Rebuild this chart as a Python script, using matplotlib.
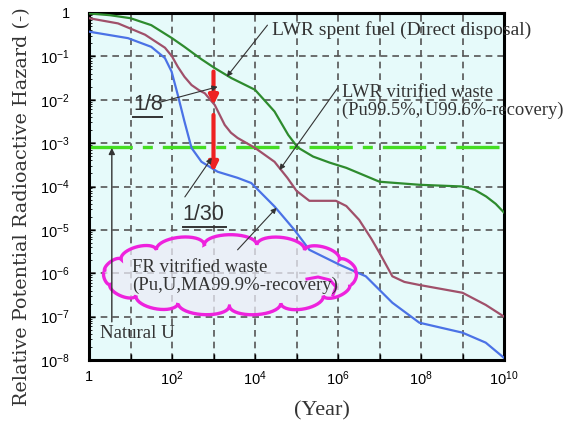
import numpy as np
import matplotlib
matplotlib.use("Agg")
import matplotlib.pyplot as plt
from matplotlib.patches import Polygon
from matplotlib.ticker import LogLocator, FuncFormatter, NullFormatter

# ---------------- data (log10 of year, log10 of relative hazard) ----------------
green_logx = [0, 0.5, 1.0, 1.5, 2.0, 2.3, 2.7, 3.03, 3.43, 4.0, 4.47, 4.8, 5.03, 5.4,
              5.8, 6.2, 7.0, 7.96, 9.0, 9.3, 9.57, 9.8, 10]
green_logy = [-0.01, -0.05, -0.12, -0.28, -0.58, -0.78, -1.06, -1.27, -1.5, -1.77, -2.27,
              -2.81, -3.1, -3.31, -3.45, -3.57, -3.89, -3.96, -4.0, -4.08, -4.23, -4.4, -4.6]

purple_logx = [0, 0.7, 1.35, 1.83, 2.0, 2.14, 2.3, 2.47, 2.65, 2.79, 3.03, 3.15, 3.27, 3.42,
               3.58, 4.0, 4.47, 4.78, 5.0, 5.31, 5.6, 5.95, 6.2, 6.51, 6.8, 7.0, 7.31, 7.6,
               7.96, 9.0, 9.56, 10]
purple_logy = [-0.12, -0.24, -0.5, -0.8, -1.0, -1.24, -1.47, -1.66, -1.78, -1.85, -2.12,
               -2.35, -2.58, -2.76, -2.88, -3.11, -3.43, -3.8, -4.1, -4.33, -4.33, -4.33,
               -4.45, -4.77, -5.2, -5.53, -6.07, -6.2, -6.27, -6.45, -6.73, -7.0]

blue_logx = [0, 0.94, 1.5, 1.83, 1.99, 2.14, 2.3, 2.47, 2.71, 3.1, 3.58, 3.91, 4.47,
             4.95, 5.31, 6.03, 6.67, 7.31, 7.96, 9.0, 9.56, 10]
blue_logy = [-0.43, -0.58, -0.78, -1.04, -1.35, -1.89, -2.5, -3.11, -3.43, -3.66, -3.8,
             -3.92, -4.46, -5.0, -5.46, -5.8, -6.07, -6.68, -7.14, -7.37, -7.6, -7.95]

natural_u_level = 8e-4
ratio_year = 1e3
ratio_1_8 = [10**-1.35, 10**-2.12]
ratio_1_30 = [10**-2.35, 10**-3.66]

label_spent = "LWR spent fuel (Direct disposal)"
label_lwr_vit = "LWR vitrified waste\n(Pu99.5%, U99.6%-recovery)"
label_fr_vit = "FR vitrified waste\n(Pu,U,MA99.9%-recovery)"
label_natu = "Natural U"
ylabel = "Relative Potential Radioactive Hazard (-)"
xlabel = "(Year)"

# ---------------- style ----------------
plt.rcParams["mathtext.fontset"] = "custom"
plt.rcParams["mathtext.rm"] = "Liberation Sans"
plt.rcParams["mathtext.default"] = "regular"
plt.rcParams["font.family"] = ["Liberation Sans", "DejaVu Sans"]
SERIF = ["Liberation Serif", "DejaVu Serif"]
TXT = "#333333"

fig = plt.figure(figsize=(5.72, 4.28), dpi=100)
ax = fig.add_axes([89 / 572, 68 / 428, 415 / 572, 347 / 428])
ax.set_xscale("log")
ax.set_yscale("log")
ax.set_xlim(1, 1e10)
ax.set_ylim(1e-8, 1)
ax.set_facecolor("#e6fafa")

ax.xaxis.set_major_locator(LogLocator(base=10, numticks=30))
ax.yaxis.set_major_locator(LogLocator(base=10, numticks=30))
ax.xaxis.set_minor_locator(LogLocator(base=10, subs=np.arange(2, 10), numticks=30))
ax.yaxis.set_minor_locator(LogLocator(base=10, subs=np.arange(2, 10), numticks=30))
ax.xaxis.set_minor_formatter(NullFormatter())
ax.yaxis.set_minor_formatter(NullFormatter())


def xfmt(v, pos):
    e = int(round(np.log10(v)))
    if e == 0:
        return "1"
    if e % 2:
        return ""
    return r"$10^{%d}$" % e


def yfmt(v, pos):
    e = int(round(np.log10(v)))
    if e == 0:
        return "1"
    return r"$10^{%d}$" % e


ax.xaxis.set_major_formatter(FuncFormatter(xfmt))
ax.yaxis.set_major_formatter(FuncFormatter(yfmt))
ax.tick_params(which="both", direction="in", labelsize=10.5, colors="black")
ax.tick_params(which="major", length=4, width=1)
ax.tick_params(which="minor", length=2, width=0.6)
ax.tick_params(axis="x", which="minor", length=0)
ax.tick_params(axis="x", pad=7)
ax.tick_params(axis="y", pad=14)
for s in ax.spines.values():
    s.set_linewidth(2.2)
    s.set_color("black")

ax.grid(which="major", linestyle=(0, (4, 3)), color="#555555", linewidth=1.2)
ax.set_axisbelow(True)

# ---------------- cloud ----------------
def to_ax(px, py):
    return ((px - 89) / 415.0, (360 - py) / 347.0)

cx, cy, a, b = 230, 275, 126, 31
N = 15
ang = np.linspace(0, 2 * np.pi, N + 1) + 0.1
nodes = np.column_stack([cx + a * np.cos(ang), cy - b * np.sin(ang)])
pts = []
for i in range(N):
    p1, p2 = nodes[i], nodes[i + 1]
    m = (p1 + p2) / 2
    h = (p2 - p1) / 2
    d = p2 - p1
    nrm = np.array([d[1], -d[0]]) / np.hypot(*d)
    if np.dot(nrm, m - np.array([cx, cy])) < 0:
        nrm = -nrm
    bulge = min(0.22 * np.hypot(*d), 10)
    for t in np.linspace(0, np.pi, 20):
        pts.append(m - np.cos(t) * h + np.sin(t) * bulge * nrm)
pts = np.array(pts)
axpts = np.array([to_ax(x, y) for x, y in pts])
cloud = Polygon(axpts, closed=True, transform=ax.transAxes, facecolor="#ececf6",
                alpha=0.75, edgecolor="none", zorder=1.5)
ax.add_patch(cloud)
cloud_edge = Polygon(axpts, closed=True, transform=ax.transAxes, facecolor="none",
                     edgecolor="#ee22dd", linewidth=2.4, zorder=4)
ax.add_patch(cloud_edge)
curl = np.array([to_ax(x, y) for x, y in [(307, 279), (318, 277), (330, 280), (336, 287), (333, 295)]])
ax.plot(curl[:, 0], curl[:, 1], color="#ee22dd", lw=2.2, transform=ax.transAxes, zorder=4)

# ---------------- curves ----------------
ax.plot(np.power(10.0, green_logx), np.power(10.0, green_logy), color="#2e8b2e", lw=1.6, zorder=3)
ax.plot(np.power(10.0, purple_logx), np.power(10.0, purple_logy), color="#a0506a", lw=1.6, zorder=3)
ax.plot(np.power(10.0, blue_logx), np.power(10.0, blue_logy), color="#4b72e6", lw=1.6, zorder=3)
ax.axhline(natural_u_level, color="#44dd22", lw=2.4, linestyle=(0, (13, 3, 3, 3)), zorder=2.5)

# ---------------- red ratio arrows ----------------
red = dict(arrowstyle="-|>", color="#ee2222", lw=3, mutation_scale=13, shrinkA=0, shrinkB=0)
ax.annotate("", xy=(ratio_year, ratio_1_8[1]), xytext=(ratio_year, ratio_1_8[0]), arrowprops=red, zorder=5)
ax.annotate("", xy=(ratio_year, ratio_1_30[1]), xytext=(ratio_year, ratio_1_30[0]), arrowprops=red, zorder=5)

# ---------------- annotations ----------------
blk = dict(arrowstyle="-|>", color="#333333", lw=0.8, mutation_scale=8, shrinkA=0, shrinkB=0)
ax.annotate("", xy=(10**3.32, 10**-1.47), xytext=(10**4.3, 10**-0.28), arrowprops=blk, zorder=6)
ax.text(10**4.4, 10**-0.39, label_spent, family=SERIF, fontsize=14, color=TXT, va="center", ha="left",
        zorder=6, clip_on=False)

ax.annotate("", xy=(10**4.59, 10**-3.62), xytext=(10**5.99, 10**-1.73), arrowprops=blk, zorder=6)
ax.text(10**6.1, 10**-2.03, label_lwr_vit, family=SERIF, fontsize=13.3, color=TXT, va="center", ha="left",
        linespacing=1.05, zorder=6, clip_on=False)

ax.annotate("", xy=(10**3.1, 10**-1.7), xytext=(10**1.66, 10**-2.07), arrowprops=blk, zorder=6)
ax.text(10**1.06, 10**-2.12, "1/8", fontsize=15.5, color=TXT, va="center", ha="left", zorder=6)
ax.plot([to_ax(133, 0)[0], to_ax(162, 0)[0]], [to_ax(0, 117)[1]] * 2, color=TXT, lw=1.4,
        transform=ax.transAxes, zorder=6)

ax.annotate("", xy=(10**2.96, 10**-3.34), xytext=(10**2.31, 10**-4.24), arrowprops=blk, zorder=6)
ax.text(10**2.26, 10**-4.65, "1/30", fontsize=15.5, color=TXT, va="center", ha="left", zorder=6)
ax.plot([to_ax(183, 0)[0], to_ax(226, 0)[0]], [to_ax(0, 227)[1]] * 2, color=TXT, lw=1.4,
        transform=ax.transAxes, zorder=6)

ax.annotate("", xy=(10**4.52, 10**-4.49), xytext=(10**3.58, 10**-5.46), arrowprops=blk, zorder=6)
ax.text(10**1.04, 10**-6.07, label_fr_vit, family=SERIF, fontsize=13.5, color=TXT, va="center", ha="left",
        linespacing=1.05, zorder=6)

ax.annotate("", xy=(10**0.55, 10**-3.11), xytext=(10**0.55, 10**-7.12),
            arrowprops=dict(arrowstyle="-|>", color="#333333", lw=1.0, mutation_scale=9,
                            shrinkA=0, shrinkB=0), zorder=6)
ax.text(10**0.26, 10**-7.4, label_natu, family=SERIF, fontsize=13.5, color=TXT, va="center", ha="left", zorder=6)

fig.text(22 / 572, 1 - 207 / 428, ylabel, family=["DejaVu Serif"], fontsize=13.8, rotation=90,
         ha="center", va="center", color=TXT)
fig.text(322 / 572, 1 - 411 / 428, xlabel, family=SERIF, fontsize=16, ha="center", va="center", color=TXT)

fig.savefig("out.png", dpi=100)
